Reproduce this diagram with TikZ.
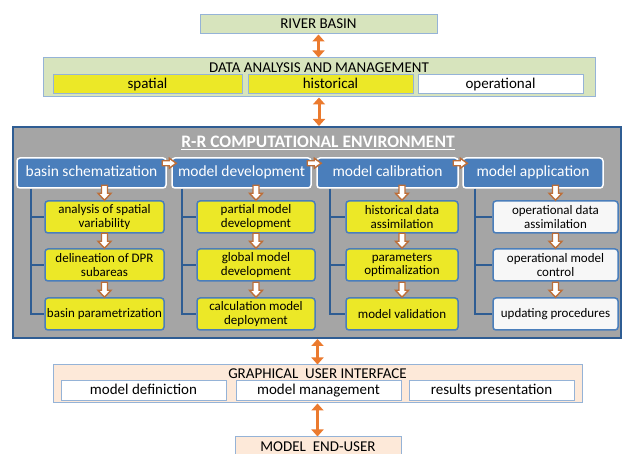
\documentclass[tikz,border=0pt]{standalone}
\usepackage{fontspec}
\setmainfont{Carlito}
\usetikzlibrary{arrows.meta, positioning, calc}
\definecolor{lgreen}  {HTML}{D7E4BD}
\definecolor{edge}    {HTML}{95B3D7}
\definecolor{yel}     {HTML}{ECE827}
\definecolor{envgray} {HTML}{A5A5A5}
\definecolor{envblue} {HTML}{4A7EBB}
\definecolor{navy}    {HTML}{2F5D93}
\definecolor{orng}    {HTML}{EB7A2E}
\definecolor{rust}    {HTML}{BD6E38}
\definecolor{peach}   {HTML}{FDE9D9}
\definecolor{offwhite}{HTML}{F7F7F7}
\tikzset{
  panel/.style  = {draw=edge, line width=1pt, fill=lgreen, inner sep=0pt,
                   text height=10pt, text depth=2.5pt,
                   font=\fontsize{15}{17}\selectfont},
  gui/.style    = {panel, fill=peach},
  big/.style    = {inner sep=0pt, font=\fontsize{15}{17}\selectfont},
  ybar/.style   = {panel, fill=yel, minimum height=19},
  wbar/.style   = {panel, fill=white, minimum width=165, minimum height=20},
  env/.style    = {draw=navy, line width=2pt, fill=envgray},
  envttl/.style = {inner sep=0pt, text=white, font=\bfseries\fontsize{17.5}{19}\selectfont},
  stage/.style  = {draw=white, line width=1.5pt, fill=envblue, rounded corners=3pt,
                   text=white, minimum height=30, inner sep=0pt,
                   text height=11pt, text depth=3.5pt,
                   font=\fontsize{15.5}{17}\selectfont},
  task/.style   = {draw=envblue, line width=1.5pt, fill=yel, rounded corners=3pt,
                   minimum height=32, inner sep=0pt, align=center,
                   font=\fontsize{13}{13.8}\selectfont},
  optask/.style = {task, fill=offwhite, minimum width=125},
  tree/.style   = {draw=navy, line width=1.6pt},
  dbl/.style    = {{Triangle[width=12pt,length=7pt]}-{Triangle[width=12pt,length=7pt]},
                   line width=3pt, orng},
  hollow/.style = {draw=rust, line width=1.4pt, fill=white, line join=miter},
  pics/downarr/.style  = {code={
    \path[hollow] (-3,-15) -- (-3,-7) -- (-6.5,-7) -- (0,0) -- (6.5,-7)
                  -- (3,-7) -- (3,-15) -- cycle;}},
  pics/rightarr/.style = {code={
    \path[hollow] (-14,-2.5) -- (-7,-2.5) -- (-7,-5) -- (0,0) -- (-7,5)
                  -- (-7,2.5) -- (-14,2.5) -- cycle;}},
}
\begin{document}
\begin{tikzpicture}[x=1pt, y=-1pt]
  \useasboundingbox (0,0) rectangle (622,454);
  \clip (0,0) rectangle (622,454);

  % data side
  \node[panel, minimum width=237, minimum height=19] (river) at (318.5,24.5) {RIVER BASIN};
  \node[panel, minimum width=552, minimum height=39] (data) at (319,77.5) {};
  \node[big] (datattl) at (319,68) {DATA ANALYSIS AND MANAGEMENT};
  \node[ybar, minimum width=189] (spatial) at (147.5,84.5) {spatial};
  \node[ybar, minimum width=165] (hist) at (330.5,84.5) {historical};
  \node[ybar, fill=white, minimum width=165] (oper) at (500.5,84.5) {operational};

  % computational environment
  \node[env, minimum width=608, minimum height=211] (env) at (317,232.5) {};
  \node[envttl] (envttl) at (318,143) {\underline{R-R COMPUTATIONAL ENVIRONMENT}};

  \node[stage, minimum width=149] (bs) at (91.5,173)  {basin schematization};
  \node[stage, minimum width=139] (md) at (241.5,173) {model development};
  \node[stage, minimum width=141] (mc) at (387.5,173) {model calibration};
  \node[stage, minimum width=140] (ma) at (533,173)   {model application};

  \node[task, minimum width=119] (bs1) at (104.5,217) {analysis of spatial\\variability};
  \node[task, minimum width=119] (bs2) at (104.5,265) {delineation of DPR\\subareas};
  \node[task, minimum width=119] (bs3) at (104.5,314) {basin parametrization};
  \node[task, minimum width=118] (md1) at (256,217)   {partial model\\development};
  \node[task, minimum width=118] (md2) at (256,265)   {global model\\development};
  \node[task, minimum width=118] (md3) at (256,314)   {calculation model\\deployment};
  \node[task, minimum width=112] (mc1) at (402,217)   {historical data\\assimilation};
  \node[task, minimum width=112] (mc2) at (402,265)   {parameters\\optimalization};
  \node[task, minimum width=112] (mc3) at (402,314)   {model validation};
  \node[optask] (ma1) at (555.5,217) {operational data\\assimilation};
  \node[optask] (ma2) at (555.5,265) {operational model\\control};
  \node[optask] (ma3) at (555.5,314) {updating procedures};

  % tree lines
  \draw[tree] ($(bs.south west)+(15,0)$) |- (bs3.west)
              ($(bs.south west)+(15,0)$) |- (bs2.west)
              ($(bs.south west)+(15,0)$) |- (bs1.west);
  \draw[tree] ($(md.south west)+(11,0)$) |- (md3.west)
              ($(md.south west)+(11,0)$) |- (md2.west)
              ($(md.south west)+(11,0)$) |- (md1.west);
  \draw[tree] ($(mc.south west)+(14,0)$) |- (mc3.west)
              ($(mc.south west)+(14,0)$) |- (mc2.west)
              ($(mc.south west)+(14,0)$) |- (mc1.west);
  \draw[tree] ($(ma.south west)+(13,0)$) |- (ma3.west)
              ($(ma.south west)+(13,0)$) |- (ma2.west)
              ($(ma.south west)+(13,0)$) |- (ma1.west);

  % hollow arrows
  \path (bs1.north) pic {downarr} (bs2.north) pic {downarr} (bs3.north) pic {downarr};
  \path (md1.north) pic {downarr} (md2.north) pic {downarr} (md3.north) pic {downarr};
  \path (mc1.north) pic {downarr} (mc2.north) pic {downarr} (mc3.north) pic {downarr};
  \path (ma1.north) pic {downarr} (ma2.north) pic {downarr} (ma3.north) pic {downarr};
  \path ($(md.north west)+(5,6)$) pic {rightarr}
        ($(mc.north west)+(5,6)$) pic {rightarr}
        ($(ma.north west)+(5,6)$) pic {rightarr};

  % user side
  \node[gui, minimum width=529, minimum height=38] (gui) at (317.5,384) {};
  \node[big] (guittl) at (317.5,374) {GRAPHICAL\ \ USER INTERFACE};
  \node[wbar] (mdef) at (143.5,391) {model definiction};
  \node[wbar] (mman) at (318.5,391) {model management};
  \node[wbar] (mres) at (491.5,391) {results presentation};
  \node[gui, minimum width=166, minimum height=21] (user) at (318,447.5) {MODEL\ \ END-USER};

  % exchange arrows
  \draw[dbl] (river.south) -- (river.south |- data.north);
  \draw[dbl] (data.south) -- (data.south |- env.north);
  \draw[dbl] (env.south -| gui.north) -- (gui.north);
  \draw[dbl] (gui.south) -- (gui.south |- user.north);

\end{tikzpicture}
\end{document}
